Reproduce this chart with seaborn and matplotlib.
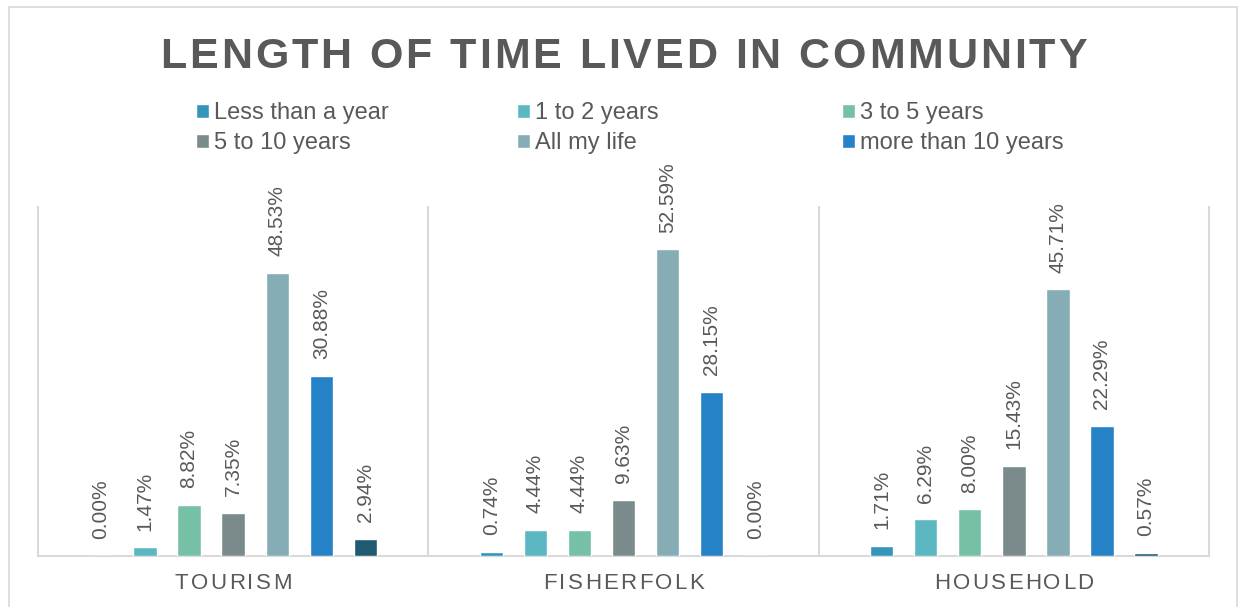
import pandas as pd
import matplotlib
matplotlib.use("Agg")
import matplotlib.pyplot as plt
from matplotlib import font_manager, ft2font
from matplotlib.transforms import IdentityTransform
from matplotlib.patches import Rectangle
import seaborn as sns

# ---- data -------------------------------------------------------------
sectors = ["TOURISM", "FISHERFOLK", "HOUSEHOLD"]
durations = ["Less than a year", "1 to 2 years", "3 to 5 years",
             "5 to 10 years", "All my life", "more than 10 years",
             "No answer"]
less_than_a_year = [0.00, 0.74, 1.71]
one_to_two_years = [1.47, 4.44, 6.29]
three_to_five_years = [8.82, 4.44, 8.00]
five_to_ten_years = [7.35, 9.63, 15.43]
all_my_life = [48.53, 52.59, 45.71]
more_than_ten_years = [30.88, 28.15, 22.29]
no_answer = [2.94, 0.00, 0.57]

series = [less_than_a_year, one_to_two_years, three_to_five_years,
          five_to_ten_years, all_my_life, more_than_ten_years, no_answer]
title = "LENGTH OF TIME LIVED IN COMMUNITY"

palette = ["#3494BA", "#5BB8C1", "#76C0A6", "#7B8B8C",
           "#86ACB5", "#2682C7", "#1F5A70"]
TEXT = "#595959"
LINE = "#D9D9D9"

# ---- figure -----------------------------------------------------------
W, H, DPI = 1238, 607, 100
sns.set_theme(style="white")
plt.rcParams["font.family"] = ["Liberation Sans", "DejaVu Sans"]

fig = plt.figure(figsize=(W / DPI, H / DPI), dpi=DPI)
fig.patch.set_facecolor("white")
ax = fig.add_axes([38 / W, 51 / H, 1171 / W, 350 / H])

df = pd.DataFrame(
    [(s, d, vals[i]) for d, vals in zip(durations, series)
     for i, s in enumerate(sectors)],
    columns=["sector", "duration", "percent"],
)

sns.barplot(data=df, x="sector", y="percent", hue="duration",
            order=sectors, hue_order=durations, palette=palette,
            saturation=1, width=0.79, gap=0.47, errorbar=None,
            legend=False, ax=ax, zorder=3)

ax.set_xlim(-0.5, 2.5)
ax.set_ylim(0, 60)
ax.set_xlabel("")
ax.set_ylabel("")
ax.set_yticks([])
ax.tick_params(axis="x", length=0, labelbottom=False)
for side in ("left", "right", "top"):
    ax.spines[side].set_visible(False)
ax.spines["bottom"].set_color(LINE)
ax.spines["bottom"].set_linewidth(1.5)
ax.vlines([-0.5, 0.5, 1.5, 2.5], 0, 60, color=LINE, lw=1.5,
          zorder=1, clip_on=False)

# value labels above each bar
for container, vals in zip(ax.containers, series):
    ax.bar_label(container, labels=[f"{v:.2f}%" for v in vals],
                 rotation=90, padding=12, fontsize=15, color=TEXT)


# ---- letter-spaced text helper ----------------------------------------
def advances(text, size_pt, weight):
    prop = font_manager.FontProperties(family="Liberation Sans", weight=weight)
    font = ft2font.FT2Font(font_manager.findfont(prop))
    font.set_size(size_pt, DPI)
    return [font.load_char(ord(c)).linearHoriAdvance / 65536 for c in text]


def tracked_text(x_center, baseline, text, size_pt, tracking,
                 weight="normal", color=TEXT):
    adv = advances(text, size_pt, weight)
    total = sum(adv) + tracking * (len(text) - 1)
    x = x_center - total / 2
    for ch, a in zip(text, adv):
        if ch != " ":
            fig.text(x, baseline, ch, transform=IdentityTransform(),
                     fontsize=size_pt, fontweight=weight, color=color,
                     ha="left", va="baseline")
        x += a + tracking


# title
tracked_text(623.5, H - 68, title, 31, 2.9, weight="bold")

# category labels under each group
for i, name in enumerate(sectors):
    cx = ax.transData.transform((i, 0))[0]
    tracked_text(cx, H - 589, name, 16, 2.3)

# ---- legend: three columns of two entries -----------------------------
handles = [c.patches[0] for c in ax.containers]
col_x = [196, 517, 842]
columns = [(0, 3), (1, 4), (2, 5)]
for x0, idx in zip(col_x, columns):
    fig.legend([handles[k] for k in idx], [durations[k] for k in idx],
               loc="upper left", bbox_to_anchor=(x0 / W, 1 - 102 / H),
               frameon=False, fontsize=17, labelcolor=TEXT,
               handlelength=0.55, handleheight=0.55, handletextpad=0.2,
               borderpad=0, borderaxespad=0, labelspacing=0.36)

# chart frame
fig.add_artist(Rectangle((8.5, -10), 1228.5, H - 7 + 10, fill=False,
                         edgecolor=LINE, lw=1.2,
                         transform=IdentityTransform()))

fig.savefig("out.png", dpi=DPI, facecolor="white")
